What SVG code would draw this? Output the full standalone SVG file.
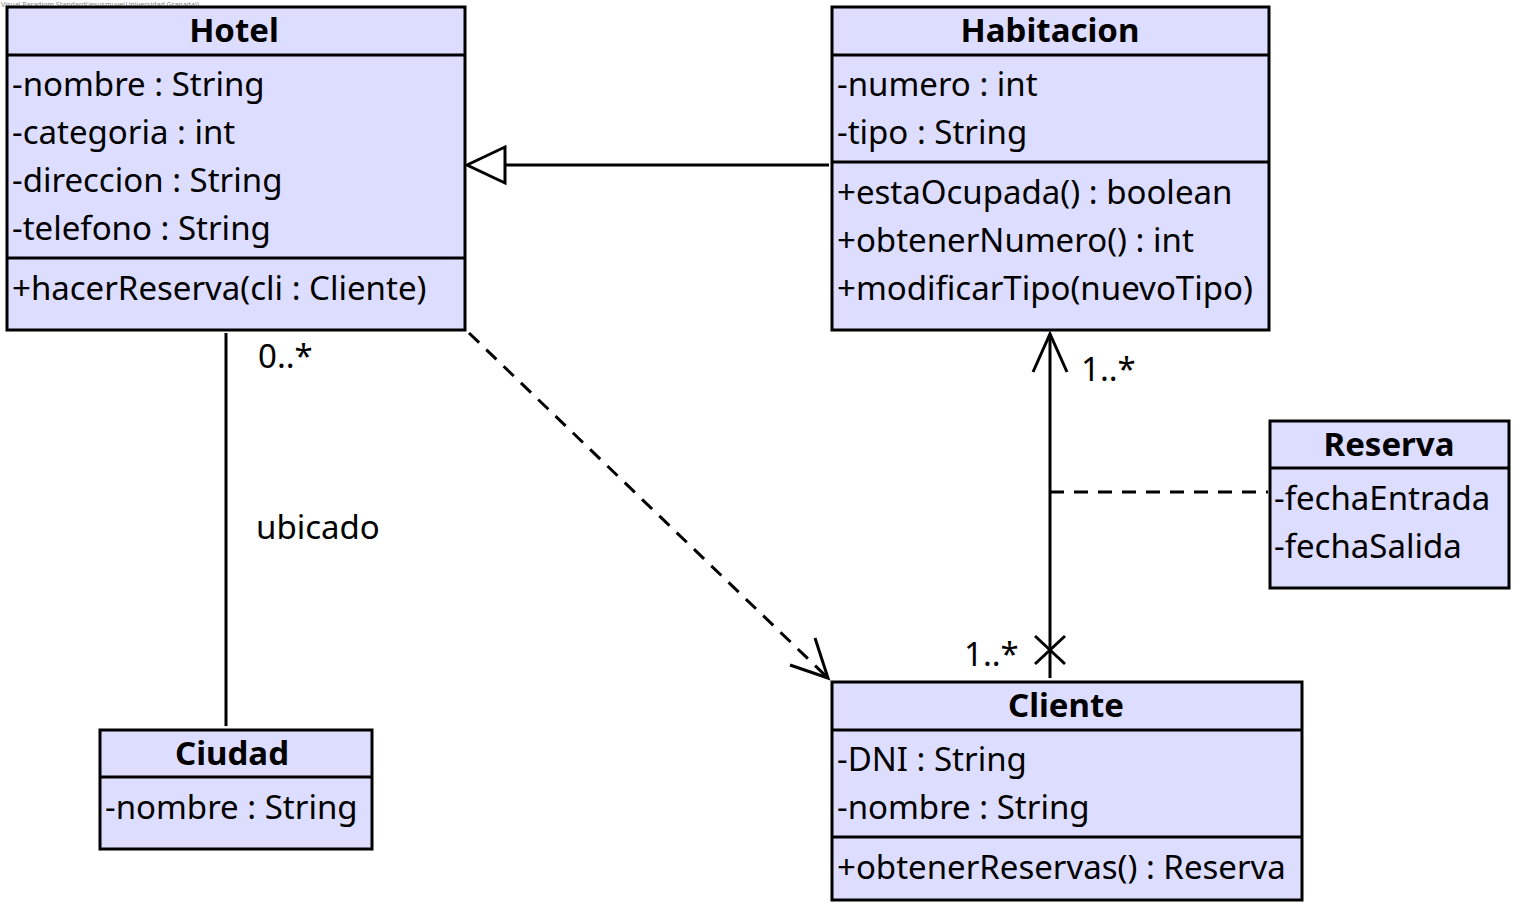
<svg xmlns="http://www.w3.org/2000/svg" width="1521" height="912" viewBox="0 0 1521 912">
<style>
.box{fill:#DDDDFF;stroke:#000;stroke-width:3}
.div{stroke:#000;stroke-width:3}
text{font-family:"Noto Sans","Open Sans",sans-serif;font-size:33px;fill:#000}
.t{font-weight:bold;text-anchor:middle}
.ln{fill:none;stroke:#000;stroke-width:3}
.dash{stroke-dasharray:14 10}
.wm{font-size:7px;fill:#888}
</style>
<rect width="1521" height="912" fill="#fff"/>
<text class="wm" x="1" y="7">Visual Paradigm Standard(jesusmuve(Universidad Granada))</text>
<g id="connectors">
  <line class="ln" x1="829" y1="165" x2="505" y2="165"/>
  <polygon points="467,165 505,147 505,183" fill="#fff" stroke="#000" stroke-width="3"/>
  <line class="ln" x1="226" y1="333" x2="226" y2="726"/>
  <text x="258" y="368">0..*</text>
  <text x="256" y="539">ubicado</text>
  <line class="ln dash" x1="469" y1="333" x2="828" y2="678"/>
  <polyline class="ln" points="790,665 828,678 815,638"/>
  <line class="ln" x1="1050" y1="678" x2="1050" y2="334"/>
  <polyline class="ln" points="1033,372 1050,334 1067,372"/>
  <line class="ln" x1="1035" y1="636" x2="1065" y2="664"/>
  <line class="ln" x1="1065" y1="636" x2="1035" y2="664"/>
  <text x="1081" y="381">1..*</text>
  <text x="964" y="666">1..*</text>
  <line class="ln dash" x1="1050" y1="492" x2="1268" y2="492"/>
</g>
<g id="Hotel">
  <rect class="box" x="7" y="7" width="458" height="323"/>
  <line class="div" x1="7" y1="55" x2="465" y2="55"/>
  <line class="div" x1="7" y1="258" x2="465" y2="258"/>
  <text class="t" x="234" y="42">Hotel</text>
  <text x="12" y="96">-nombre : String</text>
  <text x="12" y="144">-categoria : int</text>
  <text x="12" y="192">-direccion : String</text>
  <text x="12" y="240">-telefono : String</text>
  <text x="12" y="300">+hacerReserva(cli : Cliente)</text>
</g>
<g id="Habitacion">
  <rect class="box" x="832" y="7" width="437" height="323"/>
  <line class="div" x1="832" y1="55" x2="1269" y2="55"/>
  <line class="div" x1="832" y1="162" x2="1269" y2="162"/>
  <text class="t" x="1050" y="42">Habitacion</text>
  <text x="837" y="96">-numero : int</text>
  <text x="837" y="144">-tipo : String</text>
  <text x="837" y="204">+estaOcupada() : boolean</text>
  <text x="837" y="252">+obtenerNumero() : int</text>
  <text x="837" y="300">+modificarTipo(nuevoTipo)</text>
</g>
<g id="Reserva">
  <rect class="box" x="1270" y="421" width="239" height="167"/>
  <line class="div" x1="1270" y1="468" x2="1509" y2="468"/>
  <text class="t" x="1389" y="456">Reserva</text>
  <text x="1274" y="510">-fechaEntrada</text>
  <text x="1274" y="558">-fechaSalida</text>
</g>
<g id="Ciudad">
  <rect class="box" x="100" y="730" width="272" height="119"/>
  <line class="div" x1="100" y1="777" x2="372" y2="777"/>
  <text class="t" x="232" y="765">Ciudad</text>
  <text x="105" y="819">-nombre : String</text>
</g>
<g id="Cliente">
  <rect class="box" x="832" y="682" width="470" height="218"/>
  <line class="div" x1="832" y1="730" x2="1302" y2="730"/>
  <line class="div" x1="832" y1="837" x2="1302" y2="837"/>
  <text class="t" x="1066" y="717">Cliente</text>
  <text x="837" y="771">-DNI : String</text>
  <text x="837" y="819">-nombre : String</text>
  <text x="837" y="879">+obtenerReservas() : Reserva</text>
</g>
</svg>
